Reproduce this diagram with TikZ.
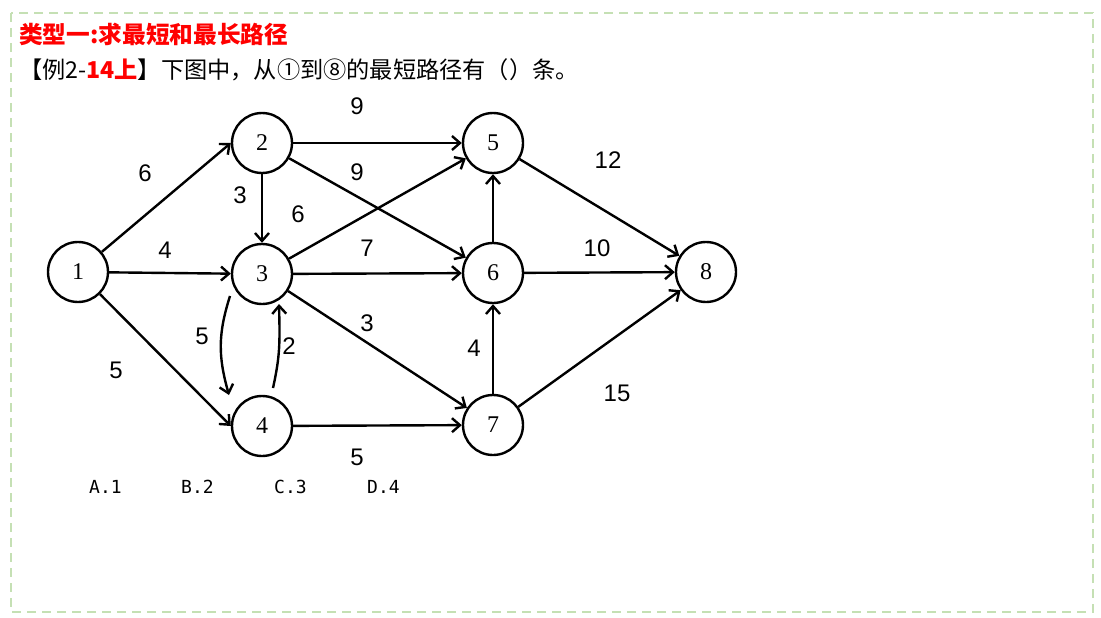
\documentclass[tikz,border=0pt]{standalone}
\usepackage{fontspec}
\setmainfont{Liberation Serif}
\newfontfamily\cjk{Noto Sans CJK SC}
\newfontfamily\lab{Liberation Sans}
\newfontfamily\opt{DejaVu Sans Mono}
\usetikzlibrary{arrows.meta,calc}
\definecolor{framegreen}{RGB}{197,224,180}
\definecolor{tred}{RGB}{255,0,0}
\begin{document}
\begin{tikzpicture}[x=1pt,y=-1pt,
  vertex/.style={circle,draw,line width=2.4pt,minimum size=60pt,inner sep=0pt,font=\fontsize{24}{24}\selectfont},
  edge/.style={line width=2.4pt,-{Straight Barb[length=8pt,width=14pt]}},
  wt/.style={font=\lab\fontsize{24}{24}\selectfont,inner sep=0pt},
  optx/.style={font=\opt\fontsize{18}{18}\selectfont,inner sep=0pt,anchor=west},
  txt/.style={inner sep=0pt,anchor=west}]
\useasboundingbox (0,0) rectangle (1101,618);
\draw[framegreen,line width=2pt,dash pattern=on 9pt off 6pt] (11,13) rectangle (1093,612);

\node[txt,text=tred,font=\cjk\bfseries\fontsize{23.7}{24}\selectfont] (title) at (19,34) {类型一:求最短和最长路径};
\node[txt,font=\cjk\fontsize{23.2}{24}\selectfont] (q) at (19,70) {【例2-{\color{tred}\bfseries 14上}】下图中，从①到⑧的最短路径有（）条。};

\node[vertex] (n1) at (78,272) {1};
\node[vertex] (n2) at (262,143) {2};
\node[vertex] (n3) at (262,274) {3};
\node[vertex] (n4) at (262,426) {4};
\node[vertex] (n5) at (493,143) {5};
\node[vertex] (n6) at (493,273) {6};
\node[vertex] (n7) at (493,425) {7};
\node[vertex] (n8) at (706,272) {8};

\draw[edge] (n1) -- (n2.west);
\draw[edge] (n1) -- (n3);
\draw[edge] (n1) -- (n4.west);
\draw[edge] (n2) -- (n3);
\draw[edge] (n2) -- (n5);
\draw[edge] (n2) -- (n6);
\draw[edge] (n3) -- (n5);
\draw[edge] (n3) -- (n6);
\draw[edge] (n3) -- (n7);
\draw[edge] ($(n3)+(-32,22)$) .. controls ($(n3)+(-44,60)$) and ($(n4)+(-44,-70)$) .. ($(n4)+(-33,-31)$);
\draw[edge] ($(n4)+(11,-38)$) .. controls ($(n4)+(18,-70)$) and ($(n3)+(18,70)$) .. ($(n3)+(17,30)$);
\draw[edge] (n4) -- (n7);
\draw[edge] (n6) -- (n5);
\draw[edge] (n7) -- (n6);
\draw[edge] (n5) -- (n8);
\draw[edge] (n6) -- (n8);
\draw[edge] (n7) -- (n8);

\node[wt] (w25) at (357,106) {9};
\node[wt] (w26) at (357,172) {9};
\node[wt] (w12) at (145,173) {6};
\node[wt] (w23) at (240,195) {3};
\node[wt] (w35) at (298,214) {6};
\node[wt] (w13) at (165,250) {4};
\node[wt] (w36) at (367,248) {7};
\node[wt] (w58) at (608,160) {12};
\node[wt] (w68) at (597,248) {10};
\node[wt] (w34) at (202,336) {5};
\node[wt] (w43) at (289,346) {2};
\node[wt] (w37) at (367,323) {3};
\node[wt] (w76) at (474,348) {4};
\node[wt] (w14) at (116,370) {5};
\node[wt] (w78) at (617,393) {15};
\node[wt] (w47) at (357,457) {5};

\node[optx] (oa) at (89,487) {A.1};
\node[optx] (ob) at (181,487) {B.2};
\node[optx] (oc) at (274,487) {C.3};
\node[optx] (od) at (367,487) {D.4};
\end{tikzpicture}
\end{document}
